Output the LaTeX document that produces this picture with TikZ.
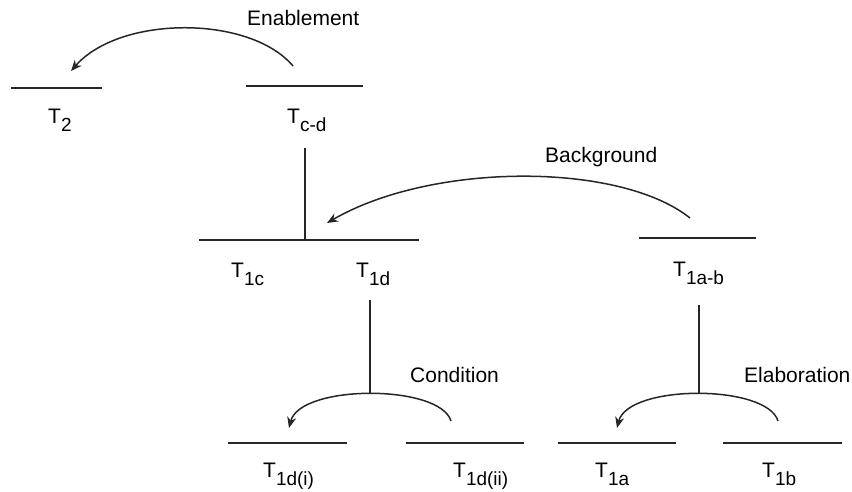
\documentclass[tikz,border=0pt]{standalone}
\usepackage{fontspec}
\setmainfont{Liberation Sans}
\usetikzlibrary{arrows.meta}
\newcommand\Tlab[1]{T\raisebox{-8pt}{\fontsize{19}{19}\selectfont #1}}
\tikzset{
  seg/.style={line width=1.6pt, draw=black!85},
  rel/.style={line width=1.5pt, draw=black!85, -{Stealth[length=11pt,width=9pt]}},
  lab/.style={anchor=base west, inner sep=0pt, font=\fontsize{21}{21}\selectfont},
}
\begin{document}
\begin{tikzpicture}[x=1pt,y=-1pt]
\useasboundingbox (0,0) rectangle (852,491);
% segment endpoints
\coordinate (t2a) at (11,88);   \coordinate (t2b) at (102,88);
\coordinate (tcda) at (246,86); \coordinate (tcdb) at (363,86);
\coordinate (t1cda) at (199,240); \coordinate (t1cdb) at (419,240);
\coordinate (t1cdm) at (305,240); \coordinate (tcdv) at (305,148);
\coordinate (t1aba) at (639,238); \coordinate (t1abb) at (756,238);
\coordinate (t1dv) at (370,300); \coordinate (t1dbot) at (370,394);
\coordinate (t1abv) at (699,305); \coordinate (t1abbot) at (699,394);
\coordinate (t1dia) at (228,443); \coordinate (t1dib) at (347,443);
\coordinate (t1diia) at (406,443); \coordinate (t1diib) at (524,443);
\coordinate (t1aa) at (558,443); \coordinate (t1ab) at (676,443);
\coordinate (t1ba) at (723,443); \coordinate (t1bb) at (842,443);
% arrow ends
\coordinate (enS) at (293,66); \coordinate (enE) at (71,71);
\coordinate (bgS) at (690,218); \coordinate (bgE) at (327,223);
\coordinate (coS) at (451,421); \coordinate (coE) at (289,428);
\coordinate (elS) at (778,421); \coordinate (elE) at (617,428);

\draw[seg] (t2a) -- (t2b);
\draw[seg] (tcda) -- (tcdb);
\draw[seg] (t1cda) -- (t1cdb);
\draw[seg] (tcdv) -- (t1cdm);
\draw[seg] (t1aba) -- (t1abb);
\draw[seg] (t1dv) -- (t1dbot);
\draw[seg] (t1abv) -- (t1abbot);
\draw[seg] (t1dia) -- (t1dib);
\draw[seg] (t1diia) -- (t1diib);
\draw[seg] (t1aa) -- (t1ab);
\draw[seg] (t1ba) -- (t1bb);

\draw[rel] (enS) .. controls (250,15) and (120,15) .. (enE);
\draw[rel] (bgS) .. controls (620,162) and (432,162) .. (bgE);
\draw[rel] (coS) .. controls (440,384) and (300,384) .. (coE);
\draw[rel] (elS) .. controls (767,384) and (628,384) .. (elE);

% labels
\node[lab] (lT2) at (48,123) {\Tlab{2}};
\node[lab] (lTcd) at (287,123) {\Tlab{c-d}};
\node[lab] (lT1c) at (231,277) {\Tlab{1c}};
\node[lab] (lT1d) at (356,277) {\Tlab{1d}};
\node[lab] (lT1ab) at (673,276) {\Tlab{1a-b}};
\node[lab] (lT1di) at (263,477) {\Tlab{1d(i)}};
\node[lab] (lT1dii) at (453,477) {\Tlab{1d(ii)}};
\node[lab] (lT1a) at (595,477) {\Tlab{1a}};
\node[lab] (lT1b) at (762,477) {\Tlab{1b}};

\node[lab] (en) at (247,25) {Enablement};
\node[lab] (bg) at (545,162) {Background};
\node[lab] (co) at (410,382) {Condition};
\node[lab] (el) at (744,382) {Elaboration};
\end{tikzpicture}
\end{document}
